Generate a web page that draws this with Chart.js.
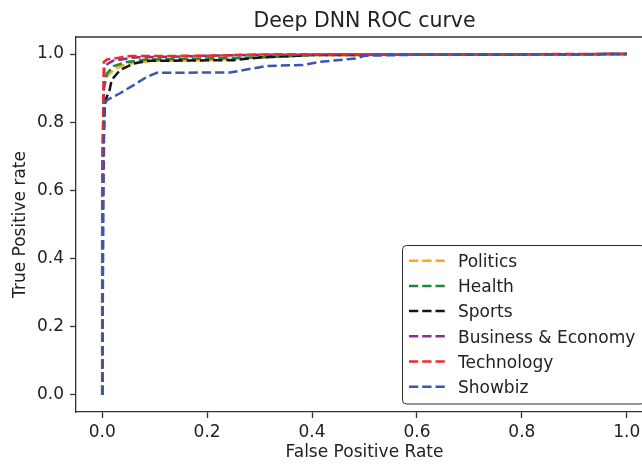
<!DOCTYPE html>
<html>
<head>
<meta charset="utf-8">
<script src="https://cdn.jsdelivr.net/npm/chart.js@4/dist/chart.umd.min.js"></script>
<style>
  html, body { margin: 0; padding: 0; background: #fff; overflow: hidden; }
  #wrap { width: 642px; height: 466px; overflow: hidden; }
</style>
</head>
<body>
<div id="wrap"><canvas id="roc" width="670" height="466"></canvas></div>
<script>
// ===== DATA =====
const labels = ["Politics", "Health", "Sports", "Business & Economy", "Technology", "Showbiz"];
const colors = ["#ffa41f", "#178a3e", "#151515", "#86308c", "#ee2a2e", "#3a55b2"];

const politicsFpr = [0, 0, 0.003, 0.009, 0.025, 0.05, 0.1, 0.2, 0.3, 0.4, 1];
const politicsTpr = [0, 0.6, 0.9, 0.935, 0.958, 0.972, 0.98, 0.982, 0.99, 0.997, 1];

const healthFpr = [0, 0, 0.003, 0.009, 0.022, 0.047, 0.085, 0.15, 0.3, 0.4, 1];
const healthTpr = [0, 0.6, 0.9, 0.943, 0.965, 0.977, 0.984, 0.986, 0.99, 0.997, 1];

const sportsFpr = [0, 0, 0.005, 0.014, 0.018, 0.034, 0.06, 0.085, 0.25, 0.3, 0.4, 1];
const sportsTpr = [0, 0.6, 0.86, 0.894, 0.924, 0.953, 0.972, 0.98, 0.982, 0.99, 0.997, 1];

const businessFpr = [0, 0, 0.004, 0.02, 0.06, 0.15, 0.3, 1];
const businessTpr = [0, 0.6, 0.965, 0.98, 0.99, 0.993, 0.998, 1];

const techFpr = [0, 0, 0.003, 0.009, 0.053, 0.2, 0.3, 1];
const techTpr = [0, 0.6, 0.977, 0.984, 0.994, 0.995, 0.999, 1];

const showbizFpr = [0, 0.002, 0.004, 0.009, 0.034, 0.06, 0.085, 0.104, 0.244, 0.288, 0.314, 0.383, 0.415, 0.447, 0.485, 0.5, 0.6, 1];
const showbizTpr = [0, 0.5, 0.85, 0.865, 0.885, 0.909, 0.933, 0.945, 0.946, 0.958, 0.965, 0.968, 0.977, 0.982, 0.987, 0.995, 0.998, 1];

const tickValues = [0, 0.2, 0.4, 0.6, 0.8, 1.0];

const curves = [
  [politicsFpr, politicsTpr],
  [healthFpr, healthTpr],
  [sportsFpr, sportsTpr],
  [businessFpr, businessTpr],
  [techFpr, techTpr],
  [showbizFpr, showbizTpr],
];

const FONT = "DejaVu Sans";
const DASH = [9.25, 4];

const datasets = curves.map(([xs, ys], i) => ({
  label: labels[i],
  data: xs.map((x, j) => ({ x: x, y: ys[j] })),
  borderColor: colors[i],
  borderWidth: 2.5,
  borderDash: DASH,
  pointRadius: 0,
  tension: 0,
  fill: false,
  // later series drawn on top, like matplotlib
  order: curves.length - i,
}));

// title, top/right spines and the lower-right legend
const frame = {
  id: "frame",
  afterDraw(chart) {
    const { ctx, chartArea: a } = chart;
    ctx.save();
    ctx.strokeStyle = "#333";
    ctx.lineWidth = 1.3;
    ctx.beginPath();
    ctx.moveTo(a.left, a.top);
    ctx.lineTo(a.right, a.top);
    ctx.lineTo(a.right, a.bottom);
    ctx.stroke();

    ctx.fillStyle = "#222";
    ctx.font = `20.5px "${FONT}"`;
    ctx.textAlign = "center";
    ctx.textBaseline = "alphabetic";
    ctx.fillText("Deep DNN ROC curve", (a.left + a.right) / 2, 26.5);

    // legend box
    const boxR = a.right - 8.5, boxB = a.bottom - 8.5;
    const boxL = 402, boxT = 245;
    ctx.beginPath();
    ctx.roundRect(boxL + 0.5, boxT + 0.5, boxR - boxL, boxB - boxT, 4);
    ctx.fillStyle = "rgba(255,255,255,0.85)";
    ctx.fill();
    ctx.strokeStyle = "#2a2a2a";
    ctx.lineWidth = 1;
    ctx.stroke();

    ctx.font = `17px "${FONT}"`;
    ctx.textAlign = "left";
    labels.forEach((name, i) => {
      const y = 260.7 + i * 25.2;
      ctx.beginPath();
      ctx.setLineDash(DASH);
      ctx.strokeStyle = colors[i];
      ctx.lineWidth = 2.5;
      ctx.moveTo(409, y);
      ctx.lineTo(445, y);
      ctx.stroke();
      ctx.setLineDash([]);
      ctx.fillStyle = "#222";
      ctx.fillText(name, 458, y + 6.2);
    });
    ctx.restore();
  },
};

function axisOpts(title, titlePad, tickPad) {
  return {
    type: "linear",
    min: -0.05,
    max: 1.05,
    afterBuildTicks: (axis) => {
      axis.ticks = tickValues.map((v) => ({ value: v }));
    },
    grid: {
      drawOnChartArea: false,
      drawTicks: true,
      tickLength: 6,
      tickColor: "#333",
      tickWidth: 1.3,
    },
    border: { color: "#333", width: 1.3 },
    ticks: {
      padding: tickPad,
      color: "#222",
      font: { family: FONT, size: 17 },
      maxRotation: 0,
      callback: (v) => v.toFixed(1),
    },
    title: {
      display: true,
      text: title,
      color: "#222",
      font: { family: FONT, size: 17 },
      padding: titlePad,
    },
  };
}

const xAxis = axisOpts("False Positive Rate", { top: 0, bottom: 3 }, 4);
xAxis.afterFit = (scale) => { scale.height = 54; };
const yAxis = axisOpts("True Positive rate", { top: 10, bottom: 0 }, 6);
yAxis.afterFit = (scale) => { scale.width = 76; };

new Chart(document.getElementById("roc"), {
  type: "line",
  data: { datasets: datasets },
  options: {
    responsive: false,
    animation: false,
    layout: { padding: { top: 37, right: 17, left: 0, bottom: 0 } },
    plugins: {
      legend: { display: false },
      title: { display: false },
      tooltip: { enabled: false },
    },
    scales: { x: xAxis, y: yAxis },
  },
  plugins: [frame],
});
</script>
</body>
</html>
